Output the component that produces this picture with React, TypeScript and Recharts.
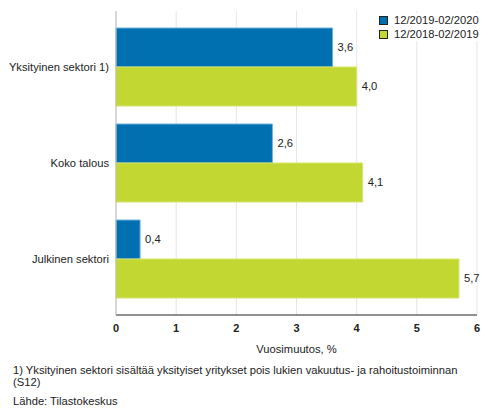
import { BarChart, Bar, XAxis, YAxis, CartesianGrid, LabelList } from 'recharts'

const categories = ['Yksityinen sektori 1)', 'Koko talous', 'Julkinen sektori']
const latest = [3.6, 2.6, 0.4]
const previous = [4.0, 4.1, 5.7]
const xTicks = [0, 1, 2, 3, 4, 5, 6]
const seriesNames = ['12/2019-02/2020', '12/2018-02/2019']

const BLUE = '#0070B0'
const GREEN = '#C3D732'
const FONT = '"Liberation Sans", Arial, sans-serif'

const data = categories.map((name, i) => ({
  name,
  latest: latest[i],
  previous: previous[i],
}))

const fmt = (v: any) => String(v.toFixed(1)).replace('.', ',')

// single-line category label, right aligned against the axis
function CategoryTick(props: any) {
  const { x, y, payload } = props
  return (
    <text x={x - 5} y={y} dy={4} textAnchor="end" fill="#222" fontSize={11.2} fontFamily={FONT}>
      {payload.value}
    </text>
  )
}

export default function App() {
  return (
    <div style={{ position: 'absolute', left: 0, top: 0, width: 493, height: 416, background: '#fff', fontFamily: FONT }}>
      <BarChart
        width={493}
        height={360}
        data={data}
        layout="vertical"
        margin={{ top: 11, right: 16, left: 0, bottom: 0 }}
        barGap={0}
        barCategoryGap={9}
      >
        <CartesianGrid horizontal={false} stroke="#e6e6e6" />
        <XAxis
          type="number"
          domain={[0, 6]}
          ticks={xTicks}
          axisLine={{ stroke: '#222' }}
          tickLine={false}
          tickSize={0}
          tickMargin={9}
          height={45}
          tick={{ fill: '#222', fontSize: 11, fontWeight: 'bold', fontFamily: FONT }}
          label={{ value: 'Vuosimuutos, %', position: 'insideBottom', offset: 7, fill: '#222', fontSize: 11.2, fontFamily: FONT }}
        />
        <YAxis
          type="category"
          dataKey="name"
          width={116}
          axisLine={{ stroke: '#bbb' }}
          tickLine={false}
          tickSize={0}
          padding={{ top: 8, bottom: 8 }}
          tick={<CategoryTick />}
        />
        <Bar dataKey="latest" fill={BLUE} stroke="#6FB0E0" strokeWidth={1} isAnimationActive={false}>
          <LabelList dataKey="latest" position="right" offset={5} formatter={fmt} fill="#222" fontSize={11.2} fontFamily={FONT} />
        </Bar>
        <Bar dataKey="previous" fill={GREEN} stroke="#D5E46A" strokeWidth={1} isAnimationActive={false}>
          <LabelList dataKey="previous" position="right" offset={5} formatter={fmt} fill="#222" fontSize={11.2} fontFamily={FONT} />
        </Bar>
      </BarChart>

      <div style={{ position: 'absolute', left: 377, top: 13, background: '#fff', fontSize: 11.2, color: '#222', lineHeight: '14px', padding: '0 2px' }}>
        {seriesNames.map((s, i) => (
          <div key={s} style={{ display: 'flex', alignItems: 'center' }}>
            <span style={{ display: 'inline-block', width: 7, height: 7, background: i === 0 ? BLUE : GREEN, border: '1px solid #222', marginRight: 6 }} />
            {s}
          </div>
        ))}
      </div>

      <div style={{ position: 'absolute', left: 13, top: 364, fontSize: 11.2, color: '#222', lineHeight: '12px' }}>
        1) Yksityinen sektori sisältää yksityiset yritykset pois lukien vakuutus- ja rahoitustoiminnan
        <br />
        (S12)
      </div>
      <div style={{ position: 'absolute', left: 13, top: 395, fontSize: 11.2, color: '#222' }}>
        Lähde: Tilastokeskus
      </div>
    </div>
  )
}
